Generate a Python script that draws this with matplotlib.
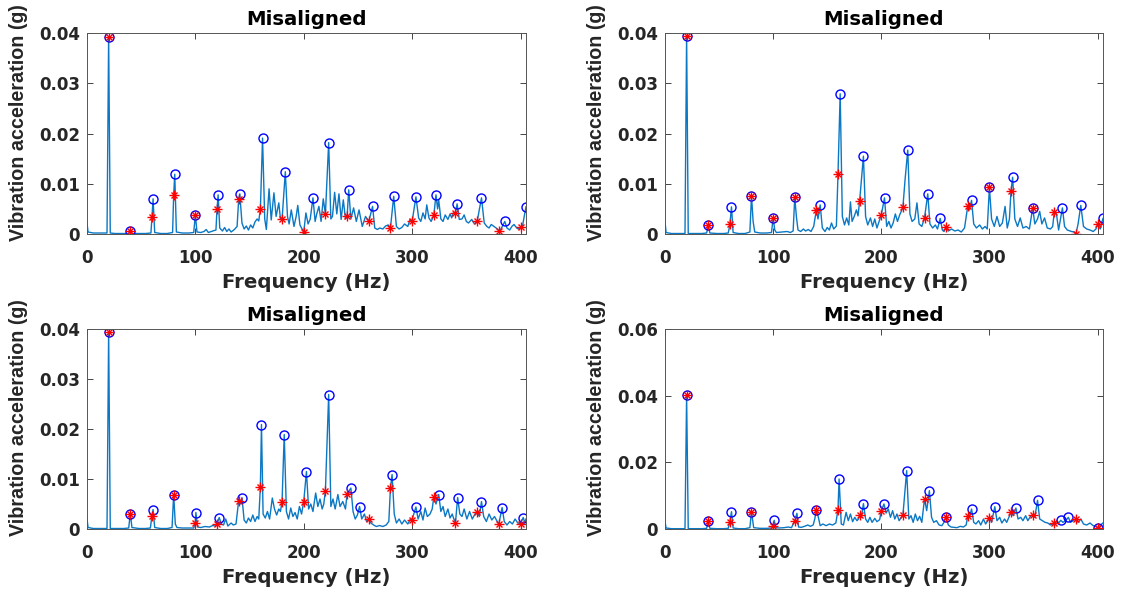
import numpy as np
import matplotlib
matplotlib.use("Agg")
from matplotlib import pyplot as plt

plt.rcParams['font.family'] = ['DejaVu Sans']
plt.rcParams['font.weight'] = 'bold'

# harmonics of the 20 Hz shaft frequency (red stars)
harm = np.arange(20, 401, 20)

# ---------------- top left ----------------
tl_star = [0.0393, 0.0007, 0.0034, 0.0078, 0.0038, 0.0050, 0.0070, 0.0050, 0.0029, 0.0004,
           0.0040, 0.0035, 0.0025, 0.0012, 0.0025, 0.0037, 0.0042, 0.0025, 0.0007, 0.0013]
tl_pk_f = [20, 40, 61, 81, 100, 121, 141, 162, 183, 208.5,
           223, 241.5, 263.5, 283, 303.5, 322, 341.5, 364, 385.5, 405]
tl_pk_a = [0.0393, 0.0007, 0.0070, 0.0119, 0.0038, 0.0078, 0.0080, 0.0191, 0.0124, 0.0072,
           0.0182, 0.0088, 0.0055, 0.0075, 0.0074, 0.0078, 0.0060, 0.0072, 0.0025, 0.0054]
tl_nf = [0, 1, 6, 12, 18.5, 21.5, 26, 32, 38.5, 41.5, 48, 54, 59, 62.5, 68, 74, 79, 82.5, 88, 94,
         98.5, 101.5, 105, 108, 110, 112, 116, 119, 122.5, 125, 127, 129, 131, 133, 136, 138.5,
         143, 145, 147, 149, 151, 153, 155, 157, 158.5, 164, 165.5, 168, 170, 172.5, 174.5, 177,
         178.5, 185, 186.5, 188.5, 191, 193, 194.5, 196.5, 198.5, 202, 204, 206, 210.5, 212, 214,
         216, 218, 225, 226.5, 228.5, 230.5, 232.5, 234.5, 236.5, 238.5, 243.5, 246, 248.5, 251,
         254, 257, 265.5, 268, 270, 273, 275.5, 278, 285.5, 288, 290.5, 293, 296, 298, 306, 308,
         310, 312, 313.5, 315.5, 317.5, 323.5, 324.5, 326.5, 328.5, 330.5, 333, 335, 336.5, 338,
         343.5, 346, 348, 350, 352, 355, 357.5, 366.5, 369, 371, 373, 375.5, 377.5, 382, 387.5,
         390, 392, 394, 396.5, 398, 402]
tl_na = [0.0022, 0.0004, 0.0002, 0.0002, 0.0002, 0.0002, 0.0001, 0.0001, 0.0001, 0.0001, 0.0001,
         0.0001, 0.0002, 0.0003, 0.0001, 0.0001, 0.0003, 0.0004, 0.0002, 0.0002, 0.0003, 0.0004,
         0.0003, 0.0005, 0.0009, 0.0003, 0.0006, 0.0008, 0.0012, 0.0006, 0.0013, 0.0005, 0.0010,
         0.0004, 0.0009, 0.0015, 0.0022, 0.0010, 0.0016, 0.0008, 0.0018, 0.0012, 0.0024, 0.0030,
         0.0026, 0.0030, 0.0009, 0.0090, 0.0028, 0.0082, 0.0035, 0.0062, 0.0030, 0.0035, 0.0020,
         0.0048, 0.0015, 0.0035, 0.0057, 0.0018, 0.0010, 0.0042, 0.0020, 0.0030, 0.0025, 0.0040,
         0.0055, 0.0025, 0.0070, 0.0030, 0.0035, 0.0083, 0.0040, 0.0080, 0.0029, 0.0068, 0.0030,
         0.0030, 0.0052, 0.0025, 0.0048, 0.0015, 0.0035, 0.0012, 0.0009, 0.0012, 0.0010, 0.0016,
         0.0018, 0.0015, 0.0010, 0.0013, 0.0020, 0.0015, 0.0029, 0.0032, 0.0025, 0.0042, 0.0030,
         0.0058, 0.0032, 0.0025, 0.0050, 0.0068, 0.0030, 0.0025, 0.0038, 0.0029, 0.0040, 0.0032,
         0.0042, 0.0029, 0.0030, 0.0038, 0.0025, 0.0022, 0.0029, 0.0020, 0.0022, 0.0015, 0.0012,
         0.0019, 0.0015, 0.0012, 0.0010, 0.0012, 0.0008, 0.0015, 0.0019, 0.0012, 0.0010, 0.0018]

# ---------------- top right ----------------
tr_star = [0.0395, 0.0017, 0.0019, 0.0076, 0.0032, 0.0073, 0.0048, 0.0120, 0.0066, 0.0038,
           0.0053, 0.0032, 0.0013, 0.0056, 0.0093, 0.0086, 0.0052, 0.0044, 0.0000, 0.0019]
tr_pk_f = [20, 40, 61.5, 80, 100, 120, 143.5, 162, 183.5, 203,
           224.5, 243, 254.5, 283.5, 300, 321.5, 340, 367.5, 384.5, 405]
tr_pk_a = [0.0395, 0.0017, 0.0054, 0.0076, 0.0032, 0.0073, 0.0058, 0.0279, 0.0155, 0.0072,
           0.0167, 0.0080, 0.0031, 0.0067, 0.0093, 0.0113, 0.0052, 0.0052, 0.0057, 0.0031]
tr_nf = [0, 1, 6, 12, 18.5, 21.5, 28, 34, 38.5, 41.5, 48, 54, 58.5, 63, 68, 74, 78.5, 81.5, 83,
         88, 94, 98.5, 101.5, 103, 108, 113, 116, 118.5, 121.5, 123, 125.5, 128, 130, 132.5, 135,
         137.5, 141.5, 145.5, 148, 150, 152, 154, 156, 158.5, 164, 166, 168, 170, 171.5, 173, 175,
         177, 178.5, 185.5, 187.5, 190, 192, 194, 196, 198, 205, 207, 209, 211, 213, 215, 217,
         218.5, 222, 226.5, 228.5, 231, 233, 235, 237.5, 245, 247.5, 250, 252, 256.5, 258, 262,
         265, 268, 271, 274, 277, 281.5, 285.5, 288, 291, 293.5, 296, 298, 302, 304.5, 307, 309.5,
         312, 314.5, 316.5, 318.5, 323.5, 326, 328.5, 331, 334, 337, 342, 344.5, 346.5, 348.5, 351,
         353.5, 356.5, 358.5, 362, 364, 369.5, 372, 376, 378.5, 382, 387, 390, 393, 396, 398.5,
         402.5]
tr_na = [0.0025, 0.0003, 0.0001, 0.0001, 0.0001, 0.0001, 0.0001, 0.0001, 0.0002, 0.0002, 0.0001,
         0.0001, 0.0002, 0.0003, 0.0001, 0.0001, 0.0004, 0.0025, 0.0004, 0.0002, 0.0002, 0.0003,
         0.0008, 0.0003, 0.0004, 0.0005, 0.0003, 0.0006, 0.0035, 0.0008, 0.0005, 0.0010, 0.0006,
         0.0009, 0.0005, 0.0015, 0.0030, 0.0012, 0.0005, 0.0013, 0.0008, 0.0022, 0.0010, 0.0016,
         0.0035, 0.0018, 0.0032, 0.0018, 0.0064, 0.0025, 0.0035, 0.0048, 0.0036, 0.0035, 0.0018,
         0.0032, 0.0015, 0.0030, 0.0012, 0.0025, 0.0015, 0.0025, 0.0012, 0.0022, 0.0040, 0.0025,
         0.0038, 0.0045, 0.0108, 0.0040, 0.0025, 0.0030, 0.0062, 0.0020, 0.0015, 0.0020, 0.0012,
         0.0018, 0.0010, 0.0008, 0.0005, 0.0006, 0.0010, 0.0006, 0.0008, 0.0004, 0.0012, 0.0048,
         0.0020, 0.0012, 0.0018, 0.0010, 0.0015, 0.0010, 0.0030, 0.0015, 0.0035, 0.0015, 0.0022,
         0.0055, 0.0012, 0.0030, 0.0030, 0.0015, 0.0032, 0.0012, 0.0015, 0.0010, 0.0020, 0.0030,
         0.0045, 0.0020, 0.0032, 0.0012, 0.0010, 0.0015, 0.0040, 0.0008, 0.0015, 0.0008, 0.0005,
         0.0004, 0.0020, 0.0015, 0.0010, 0.0008, 0.0005, 0.0010, 0.0010]

# ---------------- bottom left ----------------
bl_star = [0.0395, 0.0031, 0.0027, 0.0069, 0.0013, 0.0010, 0.0057, 0.0085, 0.0055, 0.0055,
           0.0077, 0.0070, 0.0021, 0.0082, 0.0019, 0.0064, 0.0013, 0.0034, 0.0010, 0.0011]
bl_pk_f = [20, 40, 61, 80, 100.5, 122, 143, 161, 182, 202.5,
           223, 243.5, 251.5, 281.5, 303.5, 324.5, 342, 364, 383, 402.5]
bl_pk_a = [0.0395, 0.0031, 0.0039, 0.0069, 0.0033, 0.0023, 0.0063, 0.0209, 0.0189, 0.0115,
           0.0269, 0.0082, 0.0045, 0.0109, 0.0044, 0.0069, 0.0063, 0.0055, 0.0043, 0.0023]
bl_nf = [0, 1, 6, 12, 18.5, 21.5, 28, 34, 38.5, 41.5, 48, 54, 58.5, 62.5, 68, 74, 78.5, 81.5, 83,
         88, 94, 98.5, 102, 105, 109, 113, 116, 118.5, 124, 126, 128, 130, 133, 135, 137.5, 141.5,
         145, 147, 149, 151, 153, 155, 157, 158.5, 162.5, 164.5, 166.5, 168.5, 171, 173, 175, 177,
         178.5, 184, 186, 188, 190, 192, 194, 196, 198, 204.5, 206.5, 208.5, 211, 213, 215, 217,
         218.5, 225, 227, 229, 231.5, 233.5, 236, 238.5, 245.5, 247.5, 249.5, 253.5, 256, 258,
         262, 264.5, 267, 270, 273, 276, 278.5, 283.5, 285.5, 288, 290.5, 293, 296, 298.5, 305.5,
         308, 310, 312, 314, 316.5, 318.5, 322, 326.5, 328.5, 330.5, 333, 335, 337, 338.5, 344,
         346, 348, 350.5, 353, 355.5, 358, 362, 366, 368.5, 371, 373.5, 376, 378.5, 385, 387.5,
         390, 392.5, 395, 397.5, 404, 405]
bl_na = [0.0021, 0.0003, 0.0001, 0.0001, 0.0001, 0.0001, 0.0001, 0.0001, 0.0002, 0.0003, 0.0001,
         0.0001, 0.0002, 0.0003, 0.0001, 0.0001, 0.0003, 0.0010, 0.0003, 0.0002, 0.0002, 0.0002,
         0.0004, 0.0003, 0.0005, 0.0004, 0.0007, 0.0006, 0.0010, 0.0008, 0.0020, 0.0006, 0.0012,
         0.0008, 0.0010, 0.0050, 0.0018, 0.0012, 0.0022, 0.0015, 0.0028, 0.0015, 0.0025, 0.0020,
         0.0030, 0.0022, 0.0035, 0.0020, 0.0062, 0.0040, 0.0028, 0.0040, 0.0035, 0.0035, 0.0020,
         0.0042, 0.0025, 0.0033, 0.0020, 0.0045, 0.0030, 0.0040, 0.0050, 0.0035, 0.0072, 0.0045,
         0.0060, 0.0040, 0.0050, 0.0045, 0.0060, 0.0040, 0.0069, 0.0045, 0.0055, 0.0040, 0.0035,
         0.0020, 0.0028, 0.0020, 0.0030, 0.0015, 0.0012, 0.0008, 0.0005, 0.0007, 0.0005, 0.0008,
         0.0015, 0.0030, 0.0012, 0.0020, 0.0010, 0.0018, 0.0010, 0.0020, 0.0020, 0.0035, 0.0018,
         0.0042, 0.0025, 0.0030, 0.0040, 0.0050, 0.0035, 0.0045, 0.0025, 0.0040, 0.0022, 0.0030,
         0.0020, 0.0030, 0.0025, 0.0040, 0.0020, 0.0035, 0.0020, 0.0030, 0.0025, 0.0025, 0.0015,
         0.0030, 0.0018, 0.0025, 0.0015, 0.0015, 0.0008, 0.0015, 0.0010, 0.0020, 0.0012, 0.0012,
         0.0020]

# ---------------- bottom right ----------------
br_star = [0.0401, 0.0023, 0.0022, 0.0052, 0.0010, 0.0025, 0.0058, 0.0058, 0.0042, 0.0054,
           0.0041, 0.0091, 0.0036, 0.0040, 0.0034, 0.0051, 0.0043, 0.0017, 0.0031, 0.0003]
br_pk_f = [20, 40, 61.5, 80, 101, 122, 140, 161, 183.5, 202.5,
           223.5, 244.5, 260, 283.5, 305, 324.5, 344.5, 366, 373, 400]
br_pk_a = [0.0401, 0.0023, 0.0052, 0.0052, 0.0026, 0.0047, 0.0058, 0.0150, 0.0076, 0.0075,
           0.0175, 0.0115, 0.0036, 0.0060, 0.0067, 0.0063, 0.0086, 0.0026, 0.0035, 0.0003]
br_nf = [0, 1, 6, 12, 18.5, 21.5, 28, 34, 38.5, 41.5, 48, 54, 58.5, 63, 68, 74, 78.5, 82, 88, 94,
         99, 102.5, 105, 110, 114, 117, 123.5, 126, 129, 132, 134.5, 137, 138.5, 141.5, 143.5,
         146, 149, 152, 155, 158, 163, 165, 167.5, 169.5, 171.5, 173.5, 175.5, 177.5, 179, 181.5,
         185.5, 187.5, 189.5, 191.5, 194, 196, 198.5, 204.5, 206.5, 208.5, 210.5, 212.5, 214.5,
         216.5, 218.5, 225.5, 227.5, 229.5, 231.5, 233.5, 235.5, 237.5, 242, 246.5, 248.5, 251,
         253.5, 256, 258, 262, 264.5, 267, 270, 273, 276, 278.5, 281.5, 285.5, 287.5, 290, 292,
         294.5, 296.5, 298.5, 302, 307, 309.5, 311.5, 314, 316, 318, 322, 326.5, 329, 331, 333.5,
         335.5, 338, 342, 346.5, 349, 351.5, 354, 356.5, 358.5, 362.5, 364, 368, 370.5, 375, 377.5,
         382, 384.5, 387, 390, 393, 396, 398.5, 402, 405]
br_na = [0.0023, 0.0003, 0.0001, 0.0001, 0.0001, 0.0001, 0.0001, 0.0001, 0.0002, 0.0002, 0.0001,
         0.0001, 0.0002, 0.0003, 0.0001, 0.0001, 0.0004, 0.0004, 0.0002, 0.0002, 0.0003, 0.0004,
         0.0003, 0.0004, 0.0006, 0.0004, 0.0006, 0.0005, 0.0008, 0.0012, 0.0008, 0.0012, 0.0030,
         0.0040, 0.0010, 0.0015, 0.0010, 0.0015, 0.0012, 0.0018, 0.0015, 0.0012, 0.0050, 0.0025,
         0.0045, 0.0022, 0.0035, 0.0025, 0.0030, 0.0035, 0.0030, 0.0020, 0.0035, 0.0020, 0.0032,
         0.0022, 0.0028, 0.0048, 0.0060, 0.0035, 0.0055, 0.0030, 0.0045, 0.0025, 0.0035, 0.0030,
         0.0040, 0.0020, 0.0045, 0.0025, 0.0038, 0.0020, 0.0055, 0.0035, 0.0020, 0.0025, 0.0012,
         0.0010, 0.0020, 0.0012, 0.0006, 0.0005, 0.0004, 0.0008, 0.0006, 0.0012, 0.0035, 0.0020,
         0.0015, 0.0025, 0.0012, 0.0030, 0.0015, 0.0025, 0.0020, 0.0025, 0.0035, 0.0018, 0.0030,
         0.0020, 0.0035, 0.0040, 0.0030, 0.0035, 0.0025, 0.0040, 0.0025, 0.0038, 0.0035, 0.0030,
         0.0025, 0.0020, 0.0018, 0.0012, 0.0015, 0.0025, 0.0018, 0.0020, 0.0025, 0.0020, 0.0025,
         0.0020, 0.0030, 0.0015, 0.0012, 0.0018, 0.0010, 0.0008, 0.0010, 0.0018]

x_ticks = [0, 100, 200, 300, 400]
y_ticks_small = [0, 0.01, 0.02, 0.03, 0.04]
y_labels_small = ['0', '0.01', '0.02', '0.03', '0.04']
y_ticks_big = [0, 0.02, 0.04, 0.06]
y_labels_big = ['0', '0.02', '0.04', '0.06']

text_col = '#262626'


def spectrum(nf, na, star_a, pk_f, pk_a):
    # merge noise floor, harmonic points and peak points into one sorted line
    f = np.concatenate([nf, harm, pk_f])
    a = np.concatenate([na, star_a, pk_a])
    f, idx = np.unique(f, return_index=True)
    return f, a[idx]


def draw(rect, nf, na, star_a, pk_f, pk_a, yt, yl):
    ax = fig.add_axes(rect)
    f, a = spectrum(nf, na, star_a, pk_f, pk_a)
    ax.plot(f, a, color='#0a78c4', lw=1.0)
    ax.plot(pk_f, pk_a, 'o', mfc='none', mec='#0000FF', ms=6.5, mew=1.0)
    # matlab style asterisk = plus + cross
    ax.plot(harm, star_a, '+', color='#FF0000', ms=6.5, mew=1.0)
    ax.plot(harm, star_a, 'x', color='#FF0000', ms=5, mew=1.0)
    ax.set_xlim(0, 405)
    ax.set_ylim(yt[0], yt[-1])
    ax.set_xticks(x_ticks)
    ax.set_yticks(yt)
    ax.set_yticklabels(yl)
    ax.tick_params(direction='in', length=4, width=0.6, top=True, right=True,
                   labelsize=12, colors=text_col)
    ax.tick_params(axis='x', pad=11)
    ax.tick_params(axis='y', pad=5)
    for s in ax.spines.values():
        s.set_color('#555555')
        s.set_linewidth(0.7)
    ax.set_title('Misaligned', fontsize=14.2, fontweight='bold', color='black', pad=5.5)
    ax.set_xlabel('Frequency (Hz)', fontsize=14.2, fontweight='bold', color=text_col, labelpad=4)
    ax.set_ylabel('Vibration acceleration (g)', fontsize=14.2, fontweight='bold', color=text_col,
                  family='Liberation Sans')
    ax.yaxis.set_label_coords(-0.134, 0.555)
    return ax


fig = plt.figure(figsize=(11.25, 5.92), dpi=100)

draw([0.0773, 0.6047, 0.3902, 0.3395], tl_nf, tl_na, tl_star, tl_pk_f, tl_pk_a,
     y_ticks_small, y_labels_small)
draw([0.5911, 0.6047, 0.3893, 0.3395], tr_nf, tr_na, tr_star, tr_pk_f, tr_pk_a,
     y_ticks_small, y_labels_small)
draw([0.0773, 0.1064, 0.3902, 0.3378], bl_nf, bl_na, bl_star, bl_pk_f, bl_pk_a,
     y_ticks_small, y_labels_small)
draw([0.5911, 0.1064, 0.3893, 0.3378], br_nf, br_na, br_star, br_pk_f, br_pk_a,
     y_ticks_big, y_labels_big)

fig.savefig('out.png', dpi=100)
